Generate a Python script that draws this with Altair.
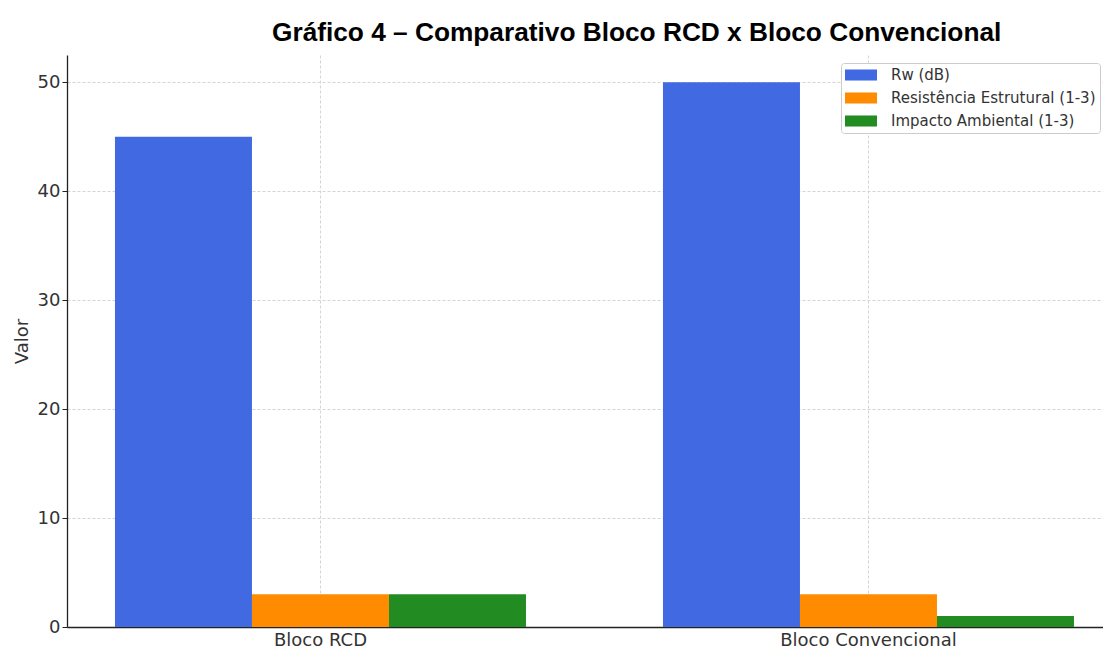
import altair as alt
import pandas as pd

categorias = ["Bloco RCD", "Bloco Convencional"]
series = ["Rw (dB)", "Resistência Estrutural (1-3)", "Impacto Ambiental (1-3)"]
rw_db = [45, 50]
resistencia = [3, 3]
impacto = [3, 1]
cores = ["#4169E1", "#FF8C00", "#228B22"]
y_ticks = [0, 10, 20, 30, 40, 50]

rows = []
for serie, valores in zip(series, [rw_db, resistencia, impacto]):
    for cat, v in zip(categorias, valores):
        rows.append({"Categoria": cat, "Série": serie, "Valor": v})
df = pd.DataFrame(rows)

grid_color = "#d4d4d4"
text_color = "#333333"
plot_h = 572

chart = alt.Chart(df).mark_bar().encode(
    x=alt.X(
        "Categoria:N", sort=categorias, title=None,
        scale=alt.Scale(paddingInner=0.25, paddingOuter=0.07026, align=0.623),
        axis=alt.Axis(
            labelAngle=0, labelFont="DejaVu Sans", labelFontSize=18,
            labelColor=text_color, ticks=False, labelPadding=4,
            grid=True, bandPosition=0.5, gridColor=grid_color,
            gridDash=[3, 2], gridWidth=1,
            domainColor="#222222", domainWidth=1.3,
        ),
    ),
    xOffset=alt.XOffset("Série:N", sort=series,
                        scale=alt.Scale(paddingInner=0, paddingOuter=0)),
    y=alt.Y(
        "Valor:Q",
        scale=alt.Scale(domain=[0, 52.5], nice=False, zero=True),
        axis=alt.Axis(
            values=y_ticks, title="Valor", labelFont="DejaVu Sans",
            labelFontSize=18, labelColor=text_color, labelPadding=2,
            tickSize=5, tickColor="#222222", tickWidth=1,
            domainColor="#222222", domainWidth=1.3,
            grid=True, gridColor=grid_color, gridDash=[3, 2], gridWidth=1,
            titleFont="DejaVu Sans", titleFontSize=18, titleFontWeight="normal",
            titleColor=text_color, titleX=-40, titleY=plot_h / 2, titleAngle=270,
            titleAlign="center", titleBaseline="alphabetic",
        ),
    ),
    color=alt.Color(
        "Série:N", sort=series,
        scale=alt.Scale(domain=series, range=cores),
        legend=alt.Legend(
            title=None, orient="none", legendX=774, legendY=8,
            labelFont="DejaVu Sans", labelFontSize=15, labelColor=text_color,
            labelLimit=400, labelOffset=30,
            symbolType="M-1,-0.69H3V0.69H-1Z", symbolSize=256,
            symbolStrokeWidth=0, symbolOpacity=1,
            rowPadding=7, padding=4, strokeColor="#cccccc",
            cornerRadius=3, fillColor="white",
        ),
    ),
).properties(
    width=1036,
    height=plot_h,
    title=alt.TitleParams(
        "Gráfico 4 – Comparativo Bloco RCD x Bloco Convencional",
        anchor="start", frame="group", dx=205, dy=26, offset=14,
        baseline="alphabetic", font="Liberation Sans", fontSize=26.25,
        fontWeight="bold", color="black",
    ),
    autosize=alt.AutoSizeParams(type="none"),
    padding={"left": 59, "top": 47, "right": 0, "bottom": 22},
).configure_view(stroke=None)

chart.save("out.html", embed_options={"renderer": "svg", "actions": False})
